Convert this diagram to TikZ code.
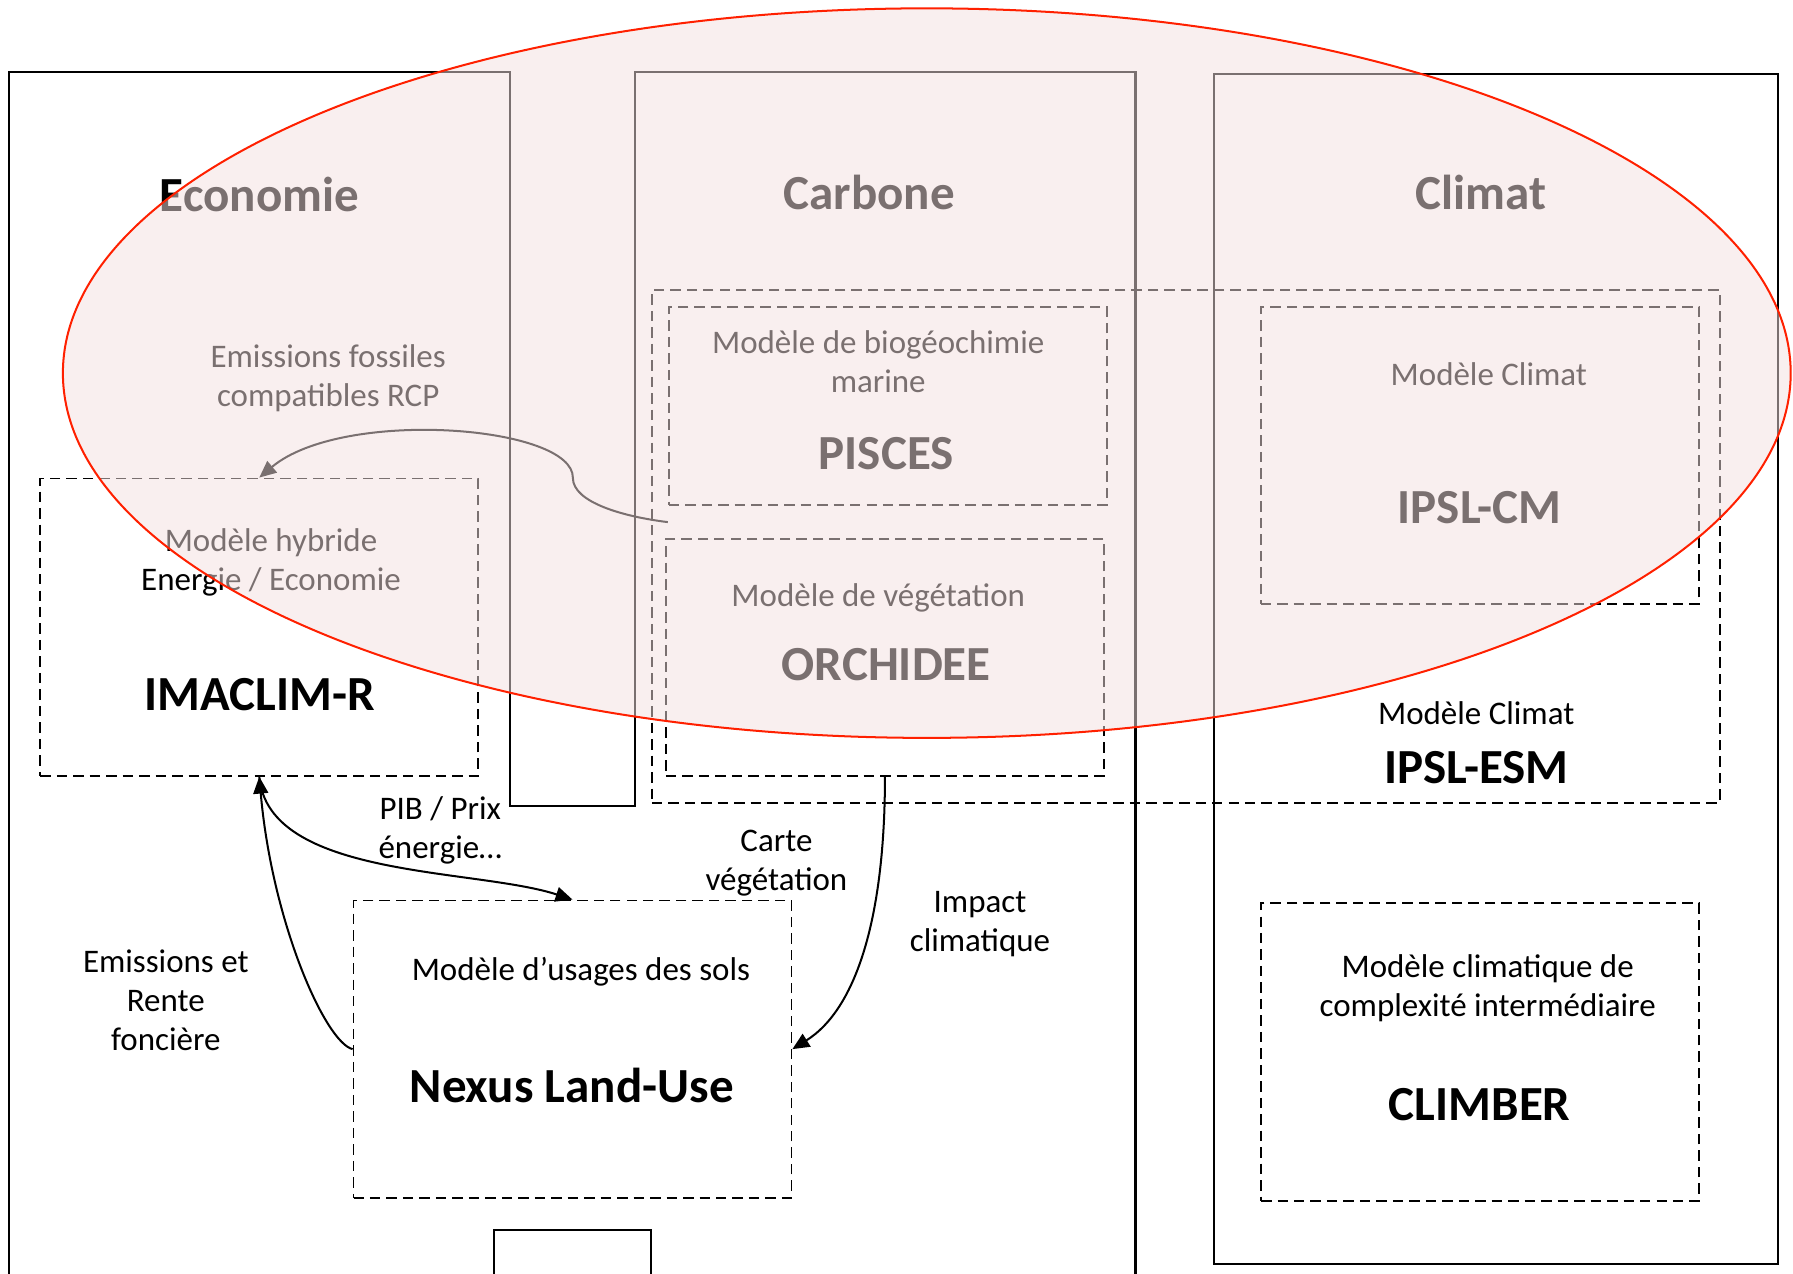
\documentclass[tikz,border=0pt]{standalone}
\usepackage{fontspec}
\setmainfont{Carlito}
\usetikzlibrary{arrows.meta}

\definecolor{blush}{RGB}{244,224,224}
\definecolor{ellred}{RGB}{255,32,0}

\begin{document}
\begin{tikzpicture}[x=0.1mm,y=-0.1mm,
    frame/.style={line width=0.5pt},
    model/.style={draw,line width=0.45pt,dash pattern=on 2.6pt off 1.5pt,inner sep=0pt,minimum width=38.3mm,minimum height=26mm},
    ttl/.style={font=\fontsize{12.2}{14}\selectfont\bfseries},
    lbl/.style={font=\fontsize{8.2}{9.7}\selectfont,align=center,yshift=-0.7pt},
    flow/.style={line width=0.5pt,-{Triangle[length=4.2pt,width=3.7pt]}}]
            \useasboundingbox (0,0) rectangle (1568,1114);
            % domain frames
            \draw[frame] (8,1120) -- (8,63) -- (446,63) -- (446,705) -- (555,705) -- (555,63) -- (993,63) -- (993,1120);
            \draw[frame] (1062,65) rectangle (1555,1105);
            \draw[frame] (432,1120) -- (432,1076) -- (569,1076) -- (569,1120);
            \node[ttl] at (227,170) (econ) {Economie};
            \node[ttl] at (760,168) (carb) {Carbone};
            \node[ttl] at (1295,168) (clim) {Climat};
            % models
            \node[model,minimum width=93.4mm,minimum height=44.83mm] at (1037,477.85) (esm) {};
            \node[model,minimum height=17.33mm] at (776.35,355.05) (pisces) {};
            \node[model,minimum height=20.74mm] at (773.9,574.9) (orchidee) {};
            \node[model] at (1294.05,398.45) (ipslcm) {};
            \node[model] at (1294.3,920) (climber) {};
            \node[model] at (226.75,548.45) (imaclim) {};
            \node[model] at (500.65,917.5) (nexus) {};
            \node[lbl] at (768,314) (piscesdesc) {Modèle de biogéochimie\\marine};
            \node[ttl] at (775,397) (piscesname) {PISCES};
            \node[lbl] at (768,520) (orchdesc) {Modèle de végétation};
            \node[ttl] at (775,581) (orchname) {ORCHIDEE};
            \node[lbl] at (1302,325) (cmdesc) {Modèle Climat};
            \node[ttl] at (1294,444) (cmname) {IPSL-CM};
            \node[lbl] at (1291,621) (esmdesc) {Modèle Climat};
            \node[ttl] at (1291,671) (esmname) {IPSL-ESM};
            \node[lbl] at (237,489) (imadesc) {Modèle hybride\\Energie / Economie};
            \node[ttl] at (227,607) (imaname) {IMACLIM-R};
            \node[lbl] at (508,847) (nexdesc) {Modèle d’usages des sols};
            \node[ttl] at (500,949) (nexname) {Nexus Land-Use};
            \node[lbl] at (1301,862) (climdesc) {Modèle climatique de\\complexité intermédiaire};
            \node[ttl] at (1294,966) (climname) {CLIMBER};
            % exchanges
            \node[lbl] at (287,328) (fossil) {Emissions fossiles\\compatibles RCP};
            \node[lbl] at (385,724) (pib) {PIB / Prix\\énergie…};
            \node[lbl] at (679,752) (carte) {Carte\\végétation};
            \node[lbl] at (857,806) (impact) {Impact\\climatique};
            \node[lbl] at (145,872) (rente) {Emissions et\\Rente\\foncière};
            \coordinate (carbsrc) at (584,456.6);
            \draw[flow] (carbsrc) to [out=173,in=-90,out looseness=1.09,in looseness=0.6] ++(-83,-38.6)
                to [out=89,in=40,out looseness=0.43,in looseness=0.89] (imaclim.north);
            \draw[flow] (imaclim.south) to [out=-85,in=162,looseness=0.78] (nexus.north);
            \draw[flow] (nexus.west) to [out=166,in=-85,out looseness=0.25,in looseness=1.3] (imaclim.south);
            \draw[flow] (orchidee.south) to [out=-90,in=32,out looseness=1.23,in looseness=0.68] (nexus.east);
            % overlay
            \draw[draw=ellred,line width=0.5pt,fill=blush,fill opacity=0.5] (810.5,326.3) ellipse [x radius=75.55mm,y radius=31.9mm];
        \end{tikzpicture}
\end{document}
